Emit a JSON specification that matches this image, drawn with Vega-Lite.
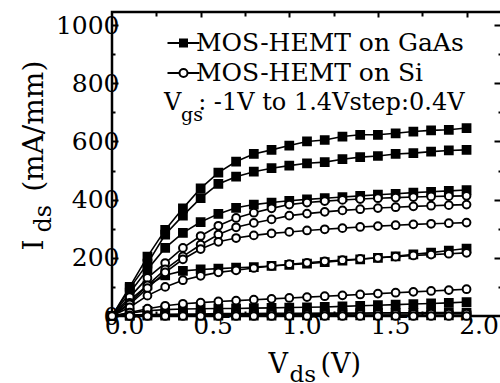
{
  "$schema": "https://vega.github.io/schema/vega-lite/v6.json",
  "width": 390,
  "height": 304,
  "autosize": "none",
  "padding": {"left": 112, "top": 12, "right": 0, "bottom": 67},
  "background": "white",
  "config": {
    "font": "DejaVu Serif",
    "view": {"stroke": "black", "strokeWidth": 2.5},
    "axis": {"domain": false, "grid": false, "tickColor": "black", "labelColor": "black", "titleColor": "black", "labelFont": "DejaVu Serif", "titleFont": "DejaVu Serif", "titleFontWeight": "normal", "tickWidth": 2},
    "legend": {"labelFont": "DejaVu Serif", "titleFont": "DejaVu Serif"},
    "title": {"font": "DejaVu Serif"}
  },
  "title": {"text": "gs", "frame": "group", "anchor": "start", "orient": "top", "offset": 0, "dx": 69, "dy": 129, "baseline": "alphabetic", "fontSize": 19, "fontWeight": "normal", "color": "black"},
  "data": {"values": [
    {"dev":"GaAs","vgs":1.4,"vds":0,"ids":0},{"dev":"GaAs","vgs":1.4,"vds":0.1,"ids":100},{"dev":"GaAs","vgs":1.4,"vds":0.2,"ids":204},{"dev":"GaAs","vgs":1.4,"vds":0.3,"ids":296},{"dev":"GaAs","vgs":1.4,"vds":0.4,"ids":370},{"dev":"GaAs","vgs":1.4,"vds":0.5,"ids":439},{"dev":"GaAs","vgs":1.4,"vds":0.6,"ids":493},{"dev":"GaAs","vgs":1.4,"vds":0.7,"ids":531},{"dev":"GaAs","vgs":1.4,"vds":0.8,"ids":557},{"dev":"GaAs","vgs":1.4,"vds":0.9,"ids":571},{"dev":"GaAs","vgs":1.4,"vds":1.0,"ids":586},{"dev":"GaAs","vgs":1.4,"vds":1.1,"ids":600},{"dev":"GaAs","vgs":1.4,"vds":1.2,"ids":605},{"dev":"GaAs","vgs":1.4,"vds":1.3,"ids":617},{"dev":"GaAs","vgs":1.4,"vds":1.4,"ids":623},{"dev":"GaAs","vgs":1.4,"vds":1.5,"ids":623},{"dev":"GaAs","vgs":1.4,"vds":1.6,"ids":628},{"dev":"GaAs","vgs":1.4,"vds":1.7,"ids":634},{"dev":"GaAs","vgs":1.4,"vds":1.8,"ids":638},{"dev":"GaAs","vgs":1.4,"vds":1.9,"ids":640},{"dev":"GaAs","vgs":1.4,"vds":2.0,"ids":646},
    {"dev":"GaAs","vgs":1.0,"vds":0,"ids":0},{"dev":"GaAs","vgs":1.0,"vds":0.1,"ids":95},{"dev":"GaAs","vgs":1.0,"vds":0.2,"ids":180},{"dev":"GaAs","vgs":1.0,"vds":0.3,"ids":280},{"dev":"GaAs","vgs":1.0,"vds":0.4,"ids":345},{"dev":"GaAs","vgs":1.0,"vds":0.5,"ids":405},{"dev":"GaAs","vgs":1.0,"vds":0.6,"ids":454},{"dev":"GaAs","vgs":1.0,"vds":0.7,"ids":479},{"dev":"GaAs","vgs":1.0,"vds":0.8,"ids":496},{"dev":"GaAs","vgs":1.0,"vds":0.9,"ids":508},{"dev":"GaAs","vgs":1.0,"vds":1.0,"ids":517},{"dev":"GaAs","vgs":1.0,"vds":1.1,"ids":525},{"dev":"GaAs","vgs":1.0,"vds":1.2,"ids":529},{"dev":"GaAs","vgs":1.0,"vds":1.3,"ids":539},{"dev":"GaAs","vgs":1.0,"vds":1.4,"ids":546},{"dev":"GaAs","vgs":1.0,"vds":1.5,"ids":550},{"dev":"GaAs","vgs":1.0,"vds":1.6,"ids":557},{"dev":"GaAs","vgs":1.0,"vds":1.7,"ids":560},{"dev":"GaAs","vgs":1.0,"vds":1.8,"ids":565},{"dev":"GaAs","vgs":1.0,"vds":1.9,"ids":569},{"dev":"GaAs","vgs":1.0,"vds":2.0,"ids":571},
    {"dev":"GaAs","vgs":0.6,"vds":0,"ids":0},{"dev":"GaAs","vgs":0.6,"vds":0.1,"ids":80},{"dev":"GaAs","vgs":0.6,"vds":0.2,"ids":160},{"dev":"GaAs","vgs":0.6,"vds":0.3,"ids":234},{"dev":"GaAs","vgs":0.6,"vds":0.4,"ids":286},{"dev":"GaAs","vgs":0.6,"vds":0.5,"ids":323},{"dev":"GaAs","vgs":0.6,"vds":0.6,"ids":351},{"dev":"GaAs","vgs":0.6,"vds":0.7,"ids":372},{"dev":"GaAs","vgs":0.6,"vds":0.8,"ids":383},{"dev":"GaAs","vgs":0.6,"vds":0.9,"ids":390},{"dev":"GaAs","vgs":0.6,"vds":1.0,"ids":396},{"dev":"GaAs","vgs":0.6,"vds":1.1,"ids":401},{"dev":"GaAs","vgs":0.6,"vds":1.2,"ids":405},{"dev":"GaAs","vgs":0.6,"vds":1.3,"ids":409},{"dev":"GaAs","vgs":0.6,"vds":1.4,"ids":413},{"dev":"GaAs","vgs":0.6,"vds":1.5,"ids":417},{"dev":"GaAs","vgs":0.6,"vds":1.6,"ids":420},{"dev":"GaAs","vgs":0.6,"vds":1.7,"ids":424},{"dev":"GaAs","vgs":0.6,"vds":1.8,"ids":427},{"dev":"GaAs","vgs":0.6,"vds":1.9,"ids":430},{"dev":"GaAs","vgs":0.6,"vds":2.0,"ids":433},
    {"dev":"GaAs","vgs":0.2,"vds":0,"ids":0},{"dev":"GaAs","vgs":0.2,"vds":0.1,"ids":55},{"dev":"GaAs","vgs":0.2,"vds":0.2,"ids":105},{"dev":"GaAs","vgs":0.2,"vds":0.3,"ids":140},{"dev":"GaAs","vgs":0.2,"vds":0.4,"ids":155},{"dev":"GaAs","vgs":0.2,"vds":0.5,"ids":160},{"dev":"GaAs","vgs":0.2,"vds":0.6,"ids":163},{"dev":"GaAs","vgs":0.2,"vds":0.7,"ids":166},{"dev":"GaAs","vgs":0.2,"vds":0.8,"ids":168},{"dev":"GaAs","vgs":0.2,"vds":0.9,"ids":172},{"dev":"GaAs","vgs":0.2,"vds":1.0,"ids":176},{"dev":"GaAs","vgs":0.2,"vds":1.1,"ids":180},{"dev":"GaAs","vgs":0.2,"vds":1.2,"ids":185},{"dev":"GaAs","vgs":0.2,"vds":1.3,"ids":190},{"dev":"GaAs","vgs":0.2,"vds":1.4,"ids":195},{"dev":"GaAs","vgs":0.2,"vds":1.5,"ids":200},{"dev":"GaAs","vgs":0.2,"vds":1.6,"ids":205},{"dev":"GaAs","vgs":0.2,"vds":1.7,"ids":212},{"dev":"GaAs","vgs":0.2,"vds":1.8,"ids":218},{"dev":"GaAs","vgs":0.2,"vds":1.9,"ids":225},{"dev":"GaAs","vgs":0.2,"vds":2.0,"ids":232},
    {"dev":"GaAs","vgs":-0.2,"vds":0,"ids":0},{"dev":"GaAs","vgs":-0.2,"vds":0.1,"ids":10},{"dev":"GaAs","vgs":-0.2,"vds":0.2,"ids":18},{"dev":"GaAs","vgs":-0.2,"vds":0.3,"ids":22},{"dev":"GaAs","vgs":-0.2,"vds":0.4,"ids":24},{"dev":"GaAs","vgs":-0.2,"vds":0.5,"ids":25},{"dev":"GaAs","vgs":-0.2,"vds":0.6,"ids":26},{"dev":"GaAs","vgs":-0.2,"vds":0.7,"ids":26},{"dev":"GaAs","vgs":-0.2,"vds":0.8,"ids":27},{"dev":"GaAs","vgs":-0.2,"vds":0.9,"ids":28},{"dev":"GaAs","vgs":-0.2,"vds":1.0,"ids":29},{"dev":"GaAs","vgs":-0.2,"vds":1.1,"ids":30},{"dev":"GaAs","vgs":-0.2,"vds":1.2,"ids":31},{"dev":"GaAs","vgs":-0.2,"vds":1.3,"ids":33},{"dev":"GaAs","vgs":-0.2,"vds":1.4,"ids":35},{"dev":"GaAs","vgs":-0.2,"vds":1.5,"ids":37},{"dev":"GaAs","vgs":-0.2,"vds":1.6,"ids":39},{"dev":"GaAs","vgs":-0.2,"vds":1.7,"ids":41},{"dev":"GaAs","vgs":-0.2,"vds":1.8,"ids":43},{"dev":"GaAs","vgs":-0.2,"vds":1.9,"ids":45},{"dev":"GaAs","vgs":-0.2,"vds":2.0,"ids":48},
    {"dev":"GaAs","vgs":-0.6,"vds":0,"ids":0},{"dev":"GaAs","vgs":-0.6,"vds":0.1,"ids":3},{"dev":"GaAs","vgs":-0.6,"vds":0.2,"ids":5},{"dev":"GaAs","vgs":-0.6,"vds":0.3,"ids":6},{"dev":"GaAs","vgs":-0.6,"vds":0.4,"ids":7},{"dev":"GaAs","vgs":-0.6,"vds":0.5,"ids":7},{"dev":"GaAs","vgs":-0.6,"vds":0.6,"ids":8},{"dev":"GaAs","vgs":-0.6,"vds":0.7,"ids":8},{"dev":"GaAs","vgs":-0.6,"vds":0.8,"ids":8},{"dev":"GaAs","vgs":-0.6,"vds":0.9,"ids":9},{"dev":"GaAs","vgs":-0.6,"vds":1.0,"ids":9},{"dev":"GaAs","vgs":-0.6,"vds":1.1,"ids":9},{"dev":"GaAs","vgs":-0.6,"vds":1.2,"ids":10},{"dev":"GaAs","vgs":-0.6,"vds":1.3,"ids":10},{"dev":"GaAs","vgs":-0.6,"vds":1.4,"ids":10},{"dev":"GaAs","vgs":-0.6,"vds":1.5,"ids":11},{"dev":"GaAs","vgs":-0.6,"vds":1.6,"ids":11},{"dev":"GaAs","vgs":-0.6,"vds":1.7,"ids":11},{"dev":"GaAs","vgs":-0.6,"vds":1.8,"ids":12},{"dev":"GaAs","vgs":-0.6,"vds":1.9,"ids":12},{"dev":"GaAs","vgs":-0.6,"vds":2.0,"ids":12},
    {"dev":"GaAs","vgs":-1.0,"vds":0,"ids":0},{"dev":"GaAs","vgs":-1.0,"vds":0.1,"ids":0},{"dev":"GaAs","vgs":-1.0,"vds":0.2,"ids":1},{"dev":"GaAs","vgs":-1.0,"vds":0.3,"ids":1},{"dev":"GaAs","vgs":-1.0,"vds":0.4,"ids":1},{"dev":"GaAs","vgs":-1.0,"vds":0.5,"ids":1},{"dev":"GaAs","vgs":-1.0,"vds":0.6,"ids":1},{"dev":"GaAs","vgs":-1.0,"vds":0.7,"ids":1},{"dev":"GaAs","vgs":-1.0,"vds":0.8,"ids":1},{"dev":"GaAs","vgs":-1.0,"vds":0.9,"ids":1},{"dev":"GaAs","vgs":-1.0,"vds":1.0,"ids":2},{"dev":"GaAs","vgs":-1.0,"vds":1.1,"ids":2},{"dev":"GaAs","vgs":-1.0,"vds":1.2,"ids":2},{"dev":"GaAs","vgs":-1.0,"vds":1.3,"ids":2},{"dev":"GaAs","vgs":-1.0,"vds":1.4,"ids":2},{"dev":"GaAs","vgs":-1.0,"vds":1.5,"ids":2},{"dev":"GaAs","vgs":-1.0,"vds":1.6,"ids":2},{"dev":"GaAs","vgs":-1.0,"vds":1.7,"ids":2},{"dev":"GaAs","vgs":-1.0,"vds":1.8,"ids":2},{"dev":"GaAs","vgs":-1.0,"vds":1.9,"ids":2},{"dev":"GaAs","vgs":-1.0,"vds":2.0,"ids":2},
    {"dev":"Si","vgs":1.4,"vds":0,"ids":0},{"dev":"Si","vgs":1.4,"vds":0.1,"ids":65},{"dev":"Si","vgs":1.4,"vds":0.2,"ids":131},{"dev":"Si","vgs":1.4,"vds":0.3,"ids":182},{"dev":"Si","vgs":1.4,"vds":0.4,"ids":234},{"dev":"Si","vgs":1.4,"vds":0.5,"ids":275},{"dev":"Si","vgs":1.4,"vds":0.6,"ids":310},{"dev":"Si","vgs":1.4,"vds":0.7,"ids":337},{"dev":"Si","vgs":1.4,"vds":0.8,"ids":355},{"dev":"Si","vgs":1.4,"vds":0.9,"ids":370},{"dev":"Si","vgs":1.4,"vds":1.0,"ids":383},{"dev":"Si","vgs":1.4,"vds":1.1,"ids":390},{"dev":"Si","vgs":1.4,"vds":1.2,"ids":395},{"dev":"Si","vgs":1.4,"vds":1.3,"ids":399},{"dev":"Si","vgs":1.4,"vds":1.4,"ids":402},{"dev":"Si","vgs":1.4,"vds":1.5,"ids":405},{"dev":"Si","vgs":1.4,"vds":1.6,"ids":407},{"dev":"Si","vgs":1.4,"vds":1.7,"ids":409},{"dev":"Si","vgs":1.4,"vds":1.8,"ids":411},{"dev":"Si","vgs":1.4,"vds":1.9,"ids":412},{"dev":"Si","vgs":1.4,"vds":2.0,"ids":413},
    {"dev":"Si","vgs":1.0,"vds":0,"ids":0},{"dev":"Si","vgs":1.0,"vds":0.1,"ids":45},{"dev":"Si","vgs":1.0,"vds":0.2,"ids":105},{"dev":"Si","vgs":1.0,"vds":0.3,"ids":160},{"dev":"Si","vgs":1.0,"vds":0.4,"ids":205},{"dev":"Si","vgs":1.0,"vds":0.5,"ids":245},{"dev":"Si","vgs":1.0,"vds":0.6,"ids":280},{"dev":"Si","vgs":1.0,"vds":0.7,"ids":305},{"dev":"Si","vgs":1.0,"vds":0.8,"ids":320},{"dev":"Si","vgs":1.0,"vds":0.9,"ids":332},{"dev":"Si","vgs":1.0,"vds":1.0,"ids":345},{"dev":"Si","vgs":1.0,"vds":1.1,"ids":352},{"dev":"Si","vgs":1.0,"vds":1.2,"ids":358},{"dev":"Si","vgs":1.0,"vds":1.3,"ids":363},{"dev":"Si","vgs":1.0,"vds":1.4,"ids":367},{"dev":"Si","vgs":1.0,"vds":1.5,"ids":371},{"dev":"Si","vgs":1.0,"vds":1.6,"ids":374},{"dev":"Si","vgs":1.0,"vds":1.7,"ids":377},{"dev":"Si","vgs":1.0,"vds":1.8,"ids":379},{"dev":"Si","vgs":1.0,"vds":1.9,"ids":381},{"dev":"Si","vgs":1.0,"vds":2.0,"ids":383},
    {"dev":"Si","vgs":0.6,"vds":0,"ids":0},{"dev":"Si","vgs":0.6,"vds":0.1,"ids":40},{"dev":"Si","vgs":0.6,"vds":0.2,"ids":96},{"dev":"Si","vgs":0.6,"vds":0.3,"ids":150},{"dev":"Si","vgs":0.6,"vds":0.4,"ids":195},{"dev":"Si","vgs":0.6,"vds":0.5,"ids":230},{"dev":"Si","vgs":0.6,"vds":0.6,"ids":255},{"dev":"Si","vgs":0.6,"vds":0.7,"ids":268},{"dev":"Si","vgs":0.6,"vds":0.8,"ids":277},{"dev":"Si","vgs":0.6,"vds":0.9,"ids":284},{"dev":"Si","vgs":0.6,"vds":1.0,"ids":289},{"dev":"Si","vgs":0.6,"vds":1.1,"ids":294},{"dev":"Si","vgs":0.6,"vds":1.2,"ids":298},{"dev":"Si","vgs":0.6,"vds":1.3,"ids":302},{"dev":"Si","vgs":0.6,"vds":1.4,"ids":306},{"dev":"Si","vgs":0.6,"vds":1.5,"ids":309},{"dev":"Si","vgs":0.6,"vds":1.6,"ids":312},{"dev":"Si","vgs":0.6,"vds":1.7,"ids":315},{"dev":"Si","vgs":0.6,"vds":1.8,"ids":317},{"dev":"Si","vgs":0.6,"vds":1.9,"ids":319},{"dev":"Si","vgs":0.6,"vds":2.0,"ids":321},
    {"dev":"Si","vgs":0.2,"vds":0,"ids":0},{"dev":"Si","vgs":0.2,"vds":0.1,"ids":30},{"dev":"Si","vgs":0.2,"vds":0.2,"ids":70},{"dev":"Si","vgs":0.2,"vds":0.3,"ids":100},{"dev":"Si","vgs":0.2,"vds":0.4,"ids":123},{"dev":"Si","vgs":0.2,"vds":0.5,"ids":138},{"dev":"Si","vgs":0.2,"vds":0.6,"ids":150},{"dev":"Si","vgs":0.2,"vds":0.7,"ids":157},{"dev":"Si","vgs":0.2,"vds":0.8,"ids":165},{"dev":"Si","vgs":0.2,"vds":0.9,"ids":172},{"dev":"Si","vgs":0.2,"vds":1.0,"ids":178},{"dev":"Si","vgs":0.2,"vds":1.1,"ids":183},{"dev":"Si","vgs":0.2,"vds":1.2,"ids":188},{"dev":"Si","vgs":0.2,"vds":1.3,"ids":192},{"dev":"Si","vgs":0.2,"vds":1.4,"ids":196},{"dev":"Si","vgs":0.2,"vds":1.5,"ids":200},{"dev":"Si","vgs":0.2,"vds":1.6,"ids":204},{"dev":"Si","vgs":0.2,"vds":1.7,"ids":208},{"dev":"Si","vgs":0.2,"vds":1.8,"ids":211},{"dev":"Si","vgs":0.2,"vds":1.9,"ids":214},{"dev":"Si","vgs":0.2,"vds":2.0,"ids":217},
    {"dev":"Si","vgs":-0.2,"vds":0,"ids":0},{"dev":"Si","vgs":-0.2,"vds":0.1,"ids":12},{"dev":"Si","vgs":-0.2,"vds":0.2,"ids":25},{"dev":"Si","vgs":-0.2,"vds":0.3,"ids":35},{"dev":"Si","vgs":-0.2,"vds":0.4,"ids":42},{"dev":"Si","vgs":-0.2,"vds":0.5,"ids":46},{"dev":"Si","vgs":-0.2,"vds":0.6,"ids":50},{"dev":"Si","vgs":-0.2,"vds":0.7,"ids":53},{"dev":"Si","vgs":-0.2,"vds":0.8,"ids":56},{"dev":"Si","vgs":-0.2,"vds":0.9,"ids":59},{"dev":"Si","vgs":-0.2,"vds":1.0,"ids":62},{"dev":"Si","vgs":-0.2,"vds":1.1,"ids":65},{"dev":"Si","vgs":-0.2,"vds":1.2,"ids":68},{"dev":"Si","vgs":-0.2,"vds":1.3,"ids":71},{"dev":"Si","vgs":-0.2,"vds":1.4,"ids":74},{"dev":"Si","vgs":-0.2,"vds":1.5,"ids":77},{"dev":"Si","vgs":-0.2,"vds":1.6,"ids":80},{"dev":"Si","vgs":-0.2,"vds":1.7,"ids":83},{"dev":"Si","vgs":-0.2,"vds":1.8,"ids":86},{"dev":"Si","vgs":-0.2,"vds":1.9,"ids":89},{"dev":"Si","vgs":-0.2,"vds":2.0,"ids":92},
    {"dev":"Si","vgs":-0.6,"vds":0,"ids":0},{"dev":"Si","vgs":-0.6,"vds":0.1,"ids":2},{"dev":"Si","vgs":-0.6,"vds":0.2,"ids":3},{"dev":"Si","vgs":-0.6,"vds":0.3,"ids":4},{"dev":"Si","vgs":-0.6,"vds":0.4,"ids":4},{"dev":"Si","vgs":-0.6,"vds":0.5,"ids":5},{"dev":"Si","vgs":-0.6,"vds":0.6,"ids":5},{"dev":"Si","vgs":-0.6,"vds":0.7,"ids":5},{"dev":"Si","vgs":-0.6,"vds":0.8,"ids":5},{"dev":"Si","vgs":-0.6,"vds":0.9,"ids":6},{"dev":"Si","vgs":-0.6,"vds":1.0,"ids":6},{"dev":"Si","vgs":-0.6,"vds":1.1,"ids":6},{"dev":"Si","vgs":-0.6,"vds":1.2,"ids":6},{"dev":"Si","vgs":-0.6,"vds":1.3,"ids":6},{"dev":"Si","vgs":-0.6,"vds":1.4,"ids":7},{"dev":"Si","vgs":-0.6,"vds":1.5,"ids":7},{"dev":"Si","vgs":-0.6,"vds":1.6,"ids":7},{"dev":"Si","vgs":-0.6,"vds":1.7,"ids":7},{"dev":"Si","vgs":-0.6,"vds":1.8,"ids":8},{"dev":"Si","vgs":-0.6,"vds":1.9,"ids":8},{"dev":"Si","vgs":-0.6,"vds":2.0,"ids":8},
    {"dev":"Si","vgs":-1.0,"vds":0,"ids":0},{"dev":"Si","vgs":-1.0,"vds":0.1,"ids":0},{"dev":"Si","vgs":-1.0,"vds":0.2,"ids":0},{"dev":"Si","vgs":-1.0,"vds":0.3,"ids":0},{"dev":"Si","vgs":-1.0,"vds":0.4,"ids":0},{"dev":"Si","vgs":-1.0,"vds":0.5,"ids":0},{"dev":"Si","vgs":-1.0,"vds":0.6,"ids":0},{"dev":"Si","vgs":-1.0,"vds":0.7,"ids":0},{"dev":"Si","vgs":-1.0,"vds":0.8,"ids":0},{"dev":"Si","vgs":-1.0,"vds":0.9,"ids":0},{"dev":"Si","vgs":-1.0,"vds":1.0,"ids":0},{"dev":"Si","vgs":-1.0,"vds":1.1,"ids":0},{"dev":"Si","vgs":-1.0,"vds":1.2,"ids":0},{"dev":"Si","vgs":-1.0,"vds":1.3,"ids":0},{"dev":"Si","vgs":-1.0,"vds":1.4,"ids":0},{"dev":"Si","vgs":-1.0,"vds":1.5,"ids":0},{"dev":"Si","vgs":-1.0,"vds":1.6,"ids":0},{"dev":"Si","vgs":-1.0,"vds":1.7,"ids":0},{"dev":"Si","vgs":-1.0,"vds":1.8,"ids":0},{"dev":"Si","vgs":-1.0,"vds":1.9,"ids":0},{"dev":"Si","vgs":-1.0,"vds":2.0,"ids":0}
  ]},
  "layer": [
    {
      "mark": {"type": "line", "color": "black", "strokeWidth": 1.6},
      "encoding": {
        "x": {"field": "vds", "type": "quantitative", "scale": {"domain": [0, 2.2], "nice": false, "zero": false},
          "axis": {"orient": "bottom", "values": [0,0.25,0.5,0.75,1,1.25,1.5,1.75,2], "labelExpr": "datum.value % 0.5 === 0 ? format(datum.value, '.1f') : ''", "labelFontSize": 25, "labelOffset": 12, "labelPadding": 2, "tickSize": -5, "labelFlush": false, "labelOverlap": false,
            "title": "V\u2003\u2009(V)", "titleFontSize": 27, "titleX": 156, "titleY": 56, "titleAlign": "left", "titleBaseline": "alphabetic", "titleAnchor": null}},
        "y": {"field": "ids", "type": "quantitative", "scale": {"domain": [0, 1045], "nice": false, "zero": false},
          "axis": {"orient": "left", "values": [0,100,200,300,400,500,600,700,800,900,1000], "labelExpr": "datum.value % 200 === 0 ? datum.label : ''", "format": "d", "labelFontSize": 25, "labelPadding": -1, "tickSize": {"condition": {"test": "datum.value % 200 === 0", "value": -6}, "value": -3}, "labelFlush": false, "labelOverlap": false, "labelBaseline": "middle",
            "title": "I\u2003\u2002\u2009(mA/mm)", "titleFontSize": 28, "titleAngle": -90, "titleX": -70, "titleY": 238, "titleAlign": "left", "titleBaseline": "alphabetic", "titleAnchor": null}},
        "detail": [{"field": "dev"}, {"field": "vgs"}]
      }
    },
    {
      "mark": {"type": "point", "stroke": "black", "strokeWidth": 2, "size": 60, "opacity": 1},
      "encoding": {
        "x": {"field": "vds", "type": "quantitative", "scale": {"domain": [0, 2.2], "nice": false, "zero": false}, "axis": null},
        "y": {"field": "ids", "type": "quantitative", "scale": {"domain": [0, 1045], "nice": false, "zero": false}, "axis": null},
        "shape": {"field": "dev", "type": "nominal", "scale": {"domain": ["GaAs", "Si"], "range": ["square", "circle"]}, "legend": null},
        "fill": {"field": "dev", "type": "nominal", "scale": {"domain": ["GaAs", "Si"], "range": ["black", "white"]}, "legend": null}
      }
    },
    {
      "mark": {"type": "point", "opacity": 0, "stroke": "black", "strokeWidth": 2},
      "encoding": {
        "x": {"field": "vds", "type": "quantitative", "scale": {"domain": [0, 2.2], "nice": false, "zero": false},
          "axis": {"orient": "top", "values": [0.25,0.5,0.75,1,1.25,1.5,1.75,2], "labels": false, "tickSize": {"condition": {"test": "datum.value % 0.5 === 0", "value": -5}, "value": -4},
            "title": "ds", "titleFontSize": 23, "titleX": 177, "titleY": 369, "titleAlign": "left", "titleBaseline": "alphabetic", "titleAnchor": null}},
        "y": {"field": "ids", "type": "quantitative", "scale": {"domain": [0, 1045], "nice": false, "zero": false},
          "axis": {"orient": "right", "values": [100,200,300,400,500,600,700,800,900,1000], "labels": false, "tickSize": {"condition": {"test": "datum.value % 200 === 0", "value": -8}, "value": -4},
            "title": "ds", "titleFontSize": 24, "titleAngle": -90, "titleX": -452, "titleY": 220, "titleAlign": "left", "titleBaseline": "alphabetic", "titleAnchor": null}},
        "shape": {"field": "dev", "type": "nominal", "scale": {"domain": ["GaAs", "Si"], "range": ["M-0.9,0H0.35M1.05,0H2.3M0.35,-0.35H1.05V0.35H0.35Z", "M-0.9,0H0.3M1.1,0H2.3M0.3,0A0.4,0.4 0 1,1 1.1,0A0.4,0.4 0 1,1 0.3,0Z"]},
          "legend": {"title": "V\u2002\u2009: -1V to 1.4Vstep:0.4V", "orient": "none", "legendX": 52, "legendY": 18.5, "padding": 0, "titleOrient": "bottom", "titleAnchor": "start", "titleAlign": "left", "titleFontSize": 24, "titleFontWeight": "normal", "titleColor": "black", "titlePadding": 4, "titleLimit": 500, "labelFontSize": 25, "labelColor": "black", "labelOffset": 7, "labelExpr": "'MOS-HEMT on ' + datum.label", "symbolSize": 400, "symbolStrokeWidth": 2, "symbolStrokeColor": "black", "symbolOpacity": 1, "rowPadding": 4, "labelLimit": 500,
            "encode": {"symbols": {"update": {"stroke": {"value": "black"}, "strokeWidth": {"value": 2}, "strokeOpacity": {"value": 1}}}}}},
        "fill": {"field": "dev", "type": "nominal", "scale": {"domain": ["GaAs", "Si"], "range": ["black", "white"]},
          "legend": {"title": "V\u2002\u2009: -1V to 1.4Vstep:0.4V", "orient": "none", "legendX": 52, "legendY": 18.5, "padding": 0, "titleOrient": "bottom", "titleAnchor": "start", "titleAlign": "left", "titleFontSize": 24, "titleFontWeight": "normal", "titleColor": "black", "titlePadding": 4, "titleLimit": 500, "labelFontSize": 25, "labelColor": "black", "labelOffset": 7, "labelExpr": "'MOS-HEMT on ' + datum.label", "symbolSize": 400, "symbolStrokeWidth": 2, "symbolStrokeColor": "black", "symbolOpacity": 1, "rowPadding": 4, "labelLimit": 500,
            "encode": {"symbols": {"update": {"stroke": {"value": "black"}, "strokeWidth": {"value": 2}, "strokeOpacity": {"value": 1}}}}}}
      }
    }
  ],
  "resolve": {"scale": {"shape": "independent", "fill": "independent"}, "axis": {"x": "independent", "y": "independent"}}
}
